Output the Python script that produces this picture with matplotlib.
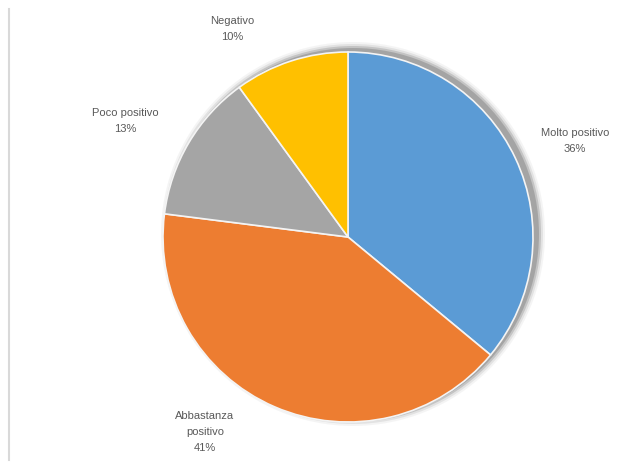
import matplotlib
matplotlib.use("Agg")
import matplotlib.pyplot as plt
from matplotlib.patches import Circle

# dati del grafico
categorie = ["Molto positivo", "Abbastanza\npositivo", "Poco positivo", "Negativo"]
valori = [36, 41, 13, 10]
colori = ["#5B9BD5", "#ED7D31", "#A5A5A5", "#FFC000"]
etichette = ["Molto positivo\n36%", "Abbastanza\npositivo\n41%", "Poco positivo\n13%", "Negativo\n10%"]
pos_etichette = [(575, 326), (205, 35), (125, 346), (232, 438)]

W, H = 643, 467
fig = plt.figure(figsize=[W / 100, H / 100], dpi=100)
ax = fig.add_axes([0, 0, 1, 1])

cx, cy, r = 348, 230, 185

# ombra sfumata in alto a destra
for dr, a in [(7, 0.08), (5, 0.15), (3, 0.3), (1, 0.45)]:
    ax.add_patch(Circle((cx + 5, cy + 3), r + dr, color="#7f7f7f", alpha=a, lw=0, zorder=0))

ax.pie(valori, colors=colori, startangle=90, counterclock=False, center=(cx, cy), radius=r,
       wedgeprops=dict(edgecolor="#f4f4f4", linewidth=1.2), frame=True)
ax.set_xlim(0, W)
ax.set_ylim(0, H)
ax.set_aspect("equal")
ax.axis("off")

for txt, (x, y) in zip(etichette, pos_etichette):
    ax.text(x, y, txt, ha="center", va="center", fontsize=8, color="#595959",
            family="Liberation Sans", linespacing=1.75, zorder=5)

# linea grigia del bordo
ax.plot([9, 9], [H - 9, H - 460], color="#d9d9d9", lw=1.5)

fig.savefig("out.png", dpi=100)
